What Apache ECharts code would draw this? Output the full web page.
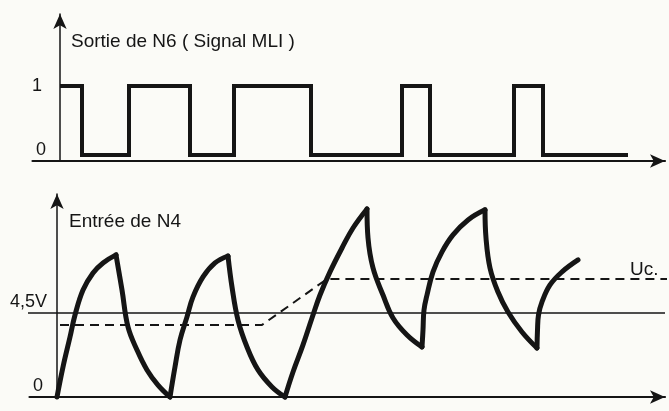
<!DOCTYPE html>
<html><head><meta charset="utf-8">
<script src="https://cdn.jsdelivr.net/npm/echarts@6/dist/echarts.min.js"></script>
<style>html,body{margin:0;padding:0;background:#fbfbf7}#c{width:669px;height:411px}</style>
</head><body><div id="c"></div>
<script>
// ---- Data ----
const topTitle = 'Sortie de N6 ( Signal MLI )';
const bottomTitle = 'Entrée de N4';
const pwmTicks = [0, 1];
const inputTicks = [0, 4.5];
const inputTickLabels = ['0', '4,5V'];
const pwmTimes  = [0, 4.4, 13.8, 26, 34.8, 50.2, 68.4, 74, 90.8, 96.6, 113.6];
const pwmLevels = [1, 0,   1,    0,  1,    0,    1,    0,  1,    0,    0];
const charge1    = [[0,0],[1.2,1.61],[2.6,3.21],[3.6,4.39],[5.2,5.73],[7.2,6.64],[9.2,7.18],[11.8,7.61]];
const discharge1 = [[11.8,7.61],[13.0,5.73],[14.2,3.75],[16.0,2.52],[18.0,1.45],[20.2,0.64],[22.6,0]];
const charge2    = [[22.6,0],[23.6,1.61],[24.6,3.05],[26.0,4.29],[27.2,5.36],[29.2,6.43],[31.6,7.18],[34.2,7.55]];
const discharge2 = [[34.2,7.55],[35.0,5.89],[36.2,4.12],[38.0,2.68],[40.2,1.45],[43.0,0.54],[45.6,0]];
const charge3    = [[45.6,0],[47.2,1.34],[49.2,2.79],[51.0,4.23],[52.6,5.46],[54.6,6.70],[57.0,7.98],[59.2,9.05],[62.0,10.07]];
const discharge3 = [[62.0,10.07],[62.2,8.52],[63.2,6.91],[65.2,5.46],[67.2,4.23],[70.0,3.32],[73.0,2.68]];
const charge4    = [[73.0,2.68],[73.2,3.59],[73.4,4.66],[74.0,5.46],[75.2,6.70],[77.0,7.77],[79.2,8.68],[82.2,9.48],[85.6,10.02]];
const discharge4 = [[85.6,10.02],[85.8,8.52],[86.6,6.91],[88.2,5.62],[90.2,4.55],[93.0,3.48],[96.0,2.62]];
const charge5    = [[96.0,2.62],[96.1,3.59],[96.3,4.39],[97.0,5.09],[98.6,6.00],[101.0,6.70],[104.2,7.34]];
const ucTimes  = [0.6, 41.0, 54.0, 122.0];
const ucValues = [3.86, 3.86, 6.32, 6.32];
const refTimes = [-9.8, 121.6];
const refLevel = 4.5;

// ---- Chart ----
const ink = '#151515';
const font = 'Liberation Sans, Arial, sans-serif';
const segments = [charge1, discharge1, charge2, discharge2, charge3, discharge3, charge4, discharge4, charge5];

const chart = echarts.init(document.getElementById('c'), null, {renderer: 'canvas'});
const axisLineStyle = {color: ink, width: 2.2};
const option = {
  backgroundColor: '#fbfbf7',
  animation: false,
  title: [
    {text: topTitle, left: 66, top: 27, textStyle: {fontFamily: font, fontSize: 19, fontWeight: 'normal', color: ink}},
    {text: bottomTitle, left: 64, top: 207, textStyle: {fontFamily: font, fontSize: 19, fontWeight: 'normal', color: ink}}
  ],
  grid: [
    {left: 32.5, top: 14, width: 632.5, height: 147, containLabel: false, outerBoundsMode: 'none'},
    {left: 29.5, top: 194, width: 635.5, height: 203, containLabel: false, outerBoundsMode: 'none'}
  ],
  xAxis: [
    {gridIndex: 0, type: 'value', min: -5.5, max: 121,
     axisLine: {onZero: false, lineStyle: axisLineStyle, symbol: ['none', 'arrow'], symbolSize: [10, 15]},
     axisTick: {show: false}, axisLabel: {show: false}, splitLine: {show: false}},
    {gridIndex: 1, type: 'value', min: -5.5, max: 121.6,
     axisLine: {onZero: false, lineStyle: axisLineStyle, symbol: ['none', 'arrow'], symbolSize: [10, 15]},
     axisTick: {show: false}, axisLabel: {show: false}, splitLine: {show: false}}
  ],
  yAxis: [
    {gridIndex: 0, type: 'value', min: -0.087, max: 2.043, offset: -27.5,
     axisLine: {show: true, onZero: false, lineStyle: {color: ink, width: 1.5}, symbol: ['none', 'arrow'], symbolSize: [10, 15]},
     axisTick: {show: false}, splitLine: {show: false},
     axisLabel: {customValues: pwmTicks, margin: 14, fontFamily: font, fontSize: 18, color: ink,
       formatter: v => v === 0 ? '{z|0}' : '{o|1}',
       rich: {z: {fontFamily: font, fontSize: 18, color: ink, padding: [0, 0, 10, 0]},
              o: {fontFamily: font, fontSize: 18, color: ink, padding: [0, 4, 0, 0]}}}},
    {gridIndex: 1, type: 'value', min: 0, max: 10.87, offset: -27.5,
     axisLine: {show: true, onZero: false, lineStyle: {color: ink, width: 1.5}, symbol: ['none', 'arrow'], symbolSize: [10, 15]},
     axisTick: {show: false}, splitLine: {show: false},
     axisLabel: {customValues: inputTicks, margin: 10, verticalAlign: 'bottom', fontFamily: font, fontSize: 18, color: ink,
       formatter: v => v === 0 ? '{z|' + inputTickLabels[0] + '}' : '{f|' + inputTickLabels[1] + '}',
       rich: {z: {fontFamily: font, fontSize: 18, color: ink, padding: [0, 4, 2, 0]},
              f: {fontFamily: font, fontSize: 18, color: ink, padding: [0, 0, 2, 0]}}}}
  ],
  series: [
    {type: 'line', xAxisIndex: 0, yAxisIndex: 0, step: 'end', symbol: 'none',
     data: pwmTimes.map((t, i) => [t, pwmLevels[i]]),
     lineStyle: {color: ink, width: 4, join: 'miter'}},
    {type: 'line', xAxisIndex: 1, yAxisIndex: 1, symbol: 'none', clip: false,
     data: refTimes.map(t => [t, refLevel]),
     lineStyle: {color: ink, width: 1.6}},
    {type: 'line', xAxisIndex: 1, yAxisIndex: 1, symbol: 'none', clip: false,
     data: ucTimes.map((t, i) => [t, ucValues[i]]),
     lineStyle: {color: ink, width: 2, type: [9, 6]},
     endLabel: {show: true, formatter: 'Uc.', offset: [-45, -9], fontFamily: font, fontSize: 19, color: ink}}
  ].concat(segments.map(seg => ({
    type: 'line', xAxisIndex: 1, yAxisIndex: 1, symbol: 'none', smooth: 0.4, clip: false,
    data: seg, lineStyle: {color: ink, width: 5, cap: 'round', join: 'round'}
  })))
};
chart.setOption(option);
</script>
</body></html>
